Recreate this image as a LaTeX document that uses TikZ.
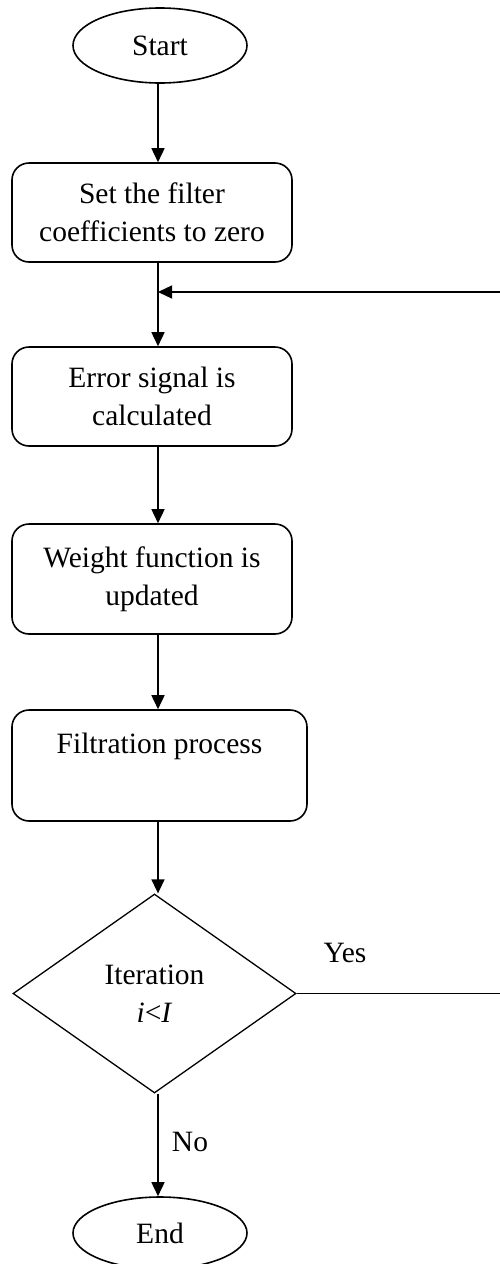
\documentclass[tikz,border=0pt]{standalone}
\usepackage{fontspec}
\setmainfont{Liberation Serif}
\usetikzlibrary{shapes.geometric,arrows.meta}

\tikzset{
  base/.style={draw=black, line width=1.6pt, inner sep=0pt,
    font=\fontsize{29.5}{38}\selectfont, align=center},
  terminal/.style={base, ellipse, minimum width=174pt},
  procbox/.style={base, rectangle, rounded corners=17pt},
  decision/.style={base, diamond, line width=1.3pt,
    minimum width=283pt, minimum height=199pt},
  arr/.style={line width=1.6pt, -{Triangle[width=13pt,length=14pt]}},
  link/.style={line width=1.3pt},
  lbl/.style={font=\fontsize{29.5}{38}\selectfont, inner sep=0pt}
}

\begin{document}
\begin{tikzpicture}[x=1pt,y=-1pt]
  \useasboundingbox (0,0) rectangle (499,1264);

  % vertical spine of the flow
  \coordinate (sp) at (158,0);

  \node[terminal, minimum height=75pt] (start) at (160,45.5) {Start};
  \node[procbox, minimum width=280pt, minimum height=99pt] (init) at (152,212.5)
    {Set the filter\\coefficients to zero};
  \node[procbox, minimum width=280pt, minimum height=99pt] (err) at (152,396.5)
    {Error signal is\\calculated};
  \node[procbox, minimum width=280pt, minimum height=110pt] (wupd) at (152,579)
    {Weight function is\\updated};
  \node[procbox, minimum width=295pt, minimum height=111pt] (filt) at (159.5,765.5)
    {Filtration process\\\phantom{p}};
  \node[decision] (iter) at (154.5,993.5) {Iteration\\\textit{i}<\textit{I}};
  \node[terminal, minimum height=72pt] (stop) at (160,1233) {End};

  % point where the loop re-enters the main flow
  \coordinate (merge) at (158,292);

  \draw[arr] (start.south -| sp) -- (init.north -| sp);
  \draw[line width=1.6pt] (init.south -| sp) -- (merge);
  \draw[arr] (merge) -- (err.north -| sp);
  \draw[arr] (err.south -| sp) -- (wupd.north -| sp);
  \draw[arr] (wupd.south -| sp) -- (filt.north -| sp);
  \draw[arr] (filt.south -| sp) -- (iter.north -| sp);
  \draw[arr] (iter.south -| sp) -- (stop.north -| sp);

  % "Yes" loop back to the error computation (runs past the right edge)
  \draw[link] (iter.east) -- (505,993.5) -- (505,292);
  \draw[arr, line width=1.3pt] (505,292) -- (merge);

  \node[lbl] (yes) at (345,953) {Yes};
  \node[lbl] (no) at (190,1142) {No};
\end{tikzpicture}
\end{document}
